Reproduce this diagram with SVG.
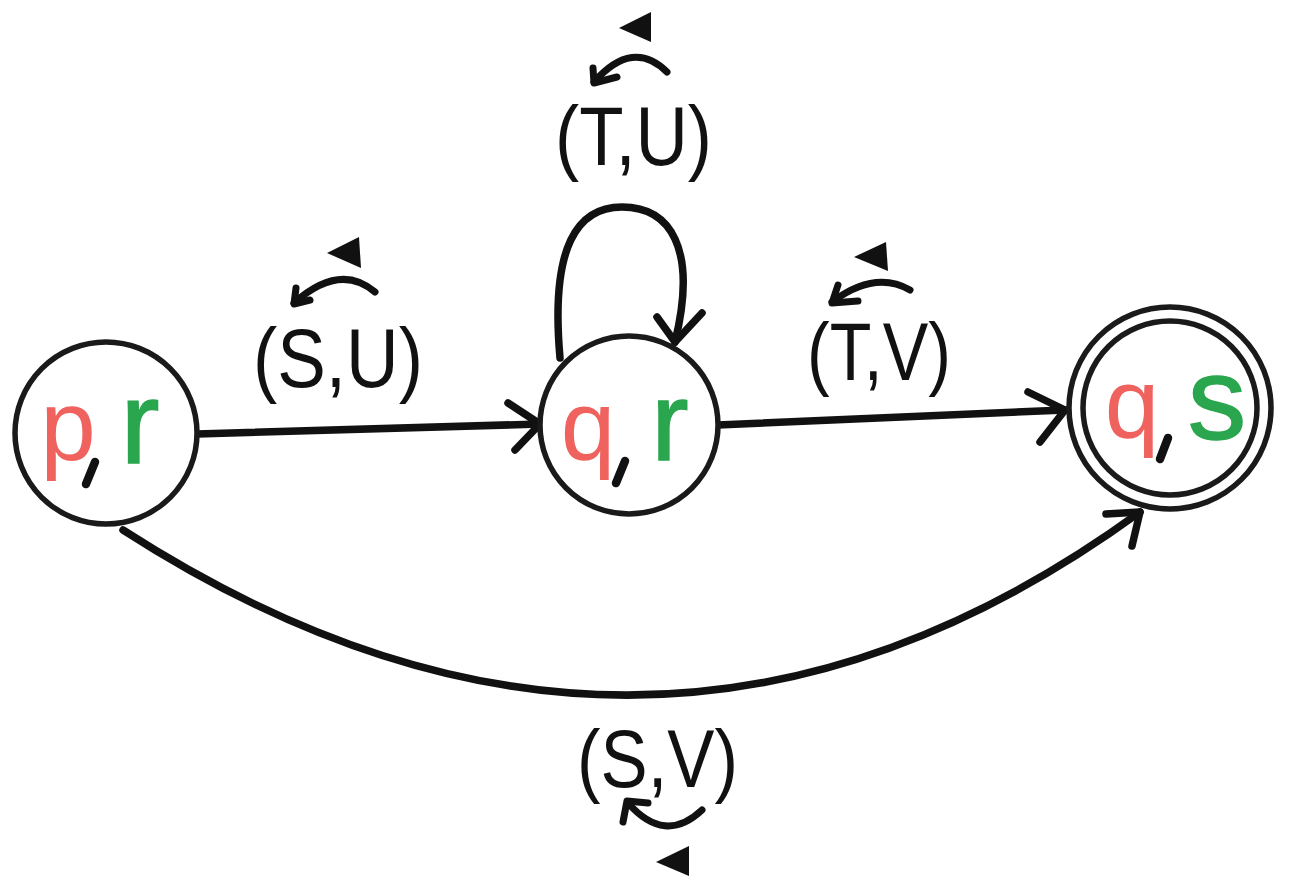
<svg xmlns="http://www.w3.org/2000/svg" width="1304" height="889" viewBox="0 0 1304 889">
<style>
.node{fill:#fff;stroke:#1a1a1a;stroke-width:5.5}
.edge{fill:none;stroke:#111;stroke-width:7.5;stroke-linecap:round;stroke-linejoin:round}
.small{fill:none;stroke:#111;stroke-width:7;stroke-linecap:round;stroke-linejoin:round}
.comma{stroke:#111;stroke-width:8.5;stroke-linecap:round}
.red{fill:#ef625e;font-family:"Liberation Sans",Arial,sans-serif;text-anchor:middle}
.green{fill:#2aa64e;font-family:"Liberation Sans",Arial,sans-serif;text-anchor:middle;stroke:#2aa64e;stroke-width:1.5}
.lbl{fill:#111;font-family:"Liberation Sans",Arial,sans-serif}
.tri{fill:#111}
</style>
<rect width="1304" height="889" fill="#fff"/>
<g id="connectors">
<g id="e-pr-qr">
<path class="edge" d="M197,434 L540,424"/>
<path class="edge" d="M508,403 L540,424 L515,450"/>
</g>
<g id="e-qr-loop">
<path class="edge" d="M560,358 C550,245 578,207 622,207 C670,207 698,248 675,342"/>
<path class="edge" d="M657,317 L675,342 L702,313"/>
</g>
<g id="e-qr-qs">
<path class="edge" d="M718,425 L1065,410"/>
<path class="edge" d="M1028,392 L1065,410 L1040,442"/>
</g>
<g id="e-pr-qs">
<path class="edge" d="M123,530 Q649,869 1140,512"/>
<path class="edge" d="M1106,514 L1140,512 L1132,546"/>
</g>
</g>
<g id="node-pr">
<circle class="node" cx="106" cy="433" r="91"/>
<text class="red" x="68" y="460" font-size="100">p</text>
<line class="comma" x1="95" y1="462" x2="86" y2="484"/>
<text class="green" x="140" y="463" font-size="117">r</text>
</g>
<g id="node-qr">
<circle class="node" cx="629" cy="425" r="89"/>
<text class="red" x="588" y="460" font-size="98">q</text>
<line class="comma" x1="625" y1="461" x2="616" y2="483"/>
<text class="green" x="670" y="460" font-size="112">r</text>
</g>
<g id="node-qs">
<circle class="node" cx="1170" cy="408" r="101" stroke-width="6.5"/>
<circle class="node" cx="1170" cy="408" r="87" stroke-width="5"/>
<text class="red" x="1132" y="438" font-size="98">q</text>
<line class="comma" x1="1168" y1="438" x2="1160" y2="459"/>
<text class="green" x="1217" y="439" font-size="117">s</text>
</g>
<g id="label-SU">
<text class="lbl" x="253" y="387" font-size="84" textLength="170" lengthAdjust="spacingAndGlyphs">(S,U)</text>
<path class="small" d="M375,292 Q340,262 294,303"/>
<path class="small" d="M310,300 L294,304 L296,288"/>
<polygon class="tri" points="327,253 359,237 361,268"/>
</g>
<g id="label-TU">
<text class="lbl" x="555" y="165" font-size="84" textLength="157" lengthAdjust="spacingAndGlyphs">(T,U)</text>
<path class="small" d="M667,72 Q633,38 594,82"/>
<path class="small" d="M617,77 L594,83 L593,68"/>
<polygon class="tri" points="619,28 651,12 651,42"/>
</g>
<g id="label-TV">
<text class="lbl" x="807" y="380" font-size="81" textLength="144" lengthAdjust="spacingAndGlyphs">(T,V)</text>
<path class="small" d="M910,290 Q875,270 832,302"/>
<path class="small" d="M858,301 L832,303 L838,285"/>
<polygon class="tri" points="854,257 886,242 888,271"/>
</g>
<g id="label-SV">
<text class="lbl" x="577" y="787" font-size="81" textLength="161" lengthAdjust="spacingAndGlyphs">(S,V)</text>
<path class="small" d="M702,810 Q665,845 628,803"/>
<path class="small" d="M648,803 L627,801 L623,822"/>
<polygon class="tri" points="656,862 689,846 689,876"/>
</g>
</svg>
